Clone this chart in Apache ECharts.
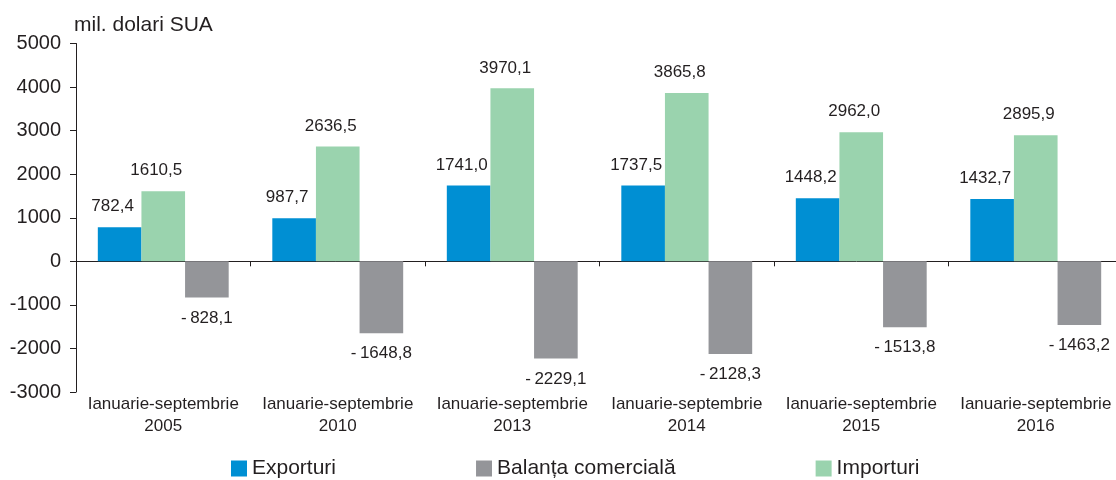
<!DOCTYPE html>
<html>
<head>
<meta charset="utf-8">
<script src="https://cdn.jsdelivr.net/npm/echarts@6/dist/echarts.min.js"></script>
<style>
  html, body { margin: 0; padding: 0; background: #fff; }
  #chart { width: 1116px; height: 480px; }
</style>
</head>
<body>
<div id="chart"></div>
<script>
// date: mil. dolari SUA
const categories = [
  'Ianuarie-septembrie\n2005',
  'Ianuarie-septembrie\n2010',
  'Ianuarie-septembrie\n2013',
  'Ianuarie-septembrie\n2014',
  'Ianuarie-septembrie\n2015',
  'Ianuarie-septembrie\n2016'
];
const exporturi = [782.4, 987.7, 1741.0, 1737.5, 1448.2, 1432.7];
const importuri = [1610.5, 2636.5, 3970.1, 3865.8, 2962.0, 2895.9];
const balanta = [-828.1, -1648.8, -2229.1, -2128.3, -1513.8, -1463.2];

const FONT = 'Arial, "Liberation Sans", sans-serif';
const INK = '#231f20';

// 1741,0 / - 1648,8
function fmt(p) {
  const s = Math.abs(p.value).toFixed(1).replace('.', ',');
  return p.value < 0 ? '-\u2009' + s : s;
}

const labelPos = {
  show: true, position: 'top', distance: 12, offset: [-7, 0],
  fontFamily: FONT, fontSize: 17, color: INK, formatter: fmt
};
const labelNeg = {
  show: true, position: 'bottom', distance: 12,
  fontFamily: FONT, fontSize: 17, color: INK, formatter: fmt
};

const chart = echarts.init(document.getElementById('chart'));
chart.setOption({
  animation: false,
  textStyle: { fontFamily: FONT },
  grid: { left: 76, right: -7, top: 43.5, bottom: 88, containLabel: false, outerBoundsMode: 'none' },
  legend: {
    data: ['Exporturi', 'Balanța comercială', 'Importuri'],
    left: 231, top: 458, padding: 0,
    itemWidth: 16, itemHeight: 16, itemGap: 140, itemTextGap: 13,
    icon: 'rect',
    textStyle: { fontFamily: FONT, fontSize: 21, color: INK }
  },
  xAxis: [
    {
      type: 'category', data: categories,
      axisLine: { onZero: true, lineStyle: { color: INK, width: 1 } },
      axisTick: { show: true, length: 5, lineStyle: { color: INK } },
      axisLabel: { show: false },
      splitLine: { show: false }
    },
    {
      type: 'category', data: categories, position: 'bottom',
      axisLine: { show: false, onZero: false },
      axisTick: { show: false },
      axisLabel: { interval: 0, margin: 1, fontFamily: FONT, fontSize: 17, lineHeight: 22, color: INK },
      splitLine: { show: false }
    }
  ],
  yAxis: {
    type: 'value', min: -3000, max: 5000, interval: 1000,
    name: 'mil. dolari SUA', nameLocation: 'end', nameGap: 8,
    nameTextStyle: { fontFamily: FONT, fontSize: 21, color: INK, align: 'left', padding: [0, 0, 0, -2] },
    axisLine: { show: true, lineStyle: { color: INK, width: 1 } },
    axisTick: { show: true, inside: false, length: 6, lineStyle: { color: INK } },
    axisLabel: { margin: 15, fontFamily: FONT, fontSize: 20, color: INK, formatter: v => String(v) },
    splitLine: { show: false }
  },
  series: [
    {
      name: 'Exporturi', type: 'bar', data: exporturi,
      barGap: '0%', barCategoryGap: '25%',
      itemStyle: { color: '#008fd3' }, label: labelPos
    },
    {
      name: 'Importuri', type: 'bar', data: importuri,
      barGap: '0%', barCategoryGap: '25%',
      itemStyle: { color: '#9ad3ae' }, label: labelPos
    },
    {
      name: 'Balanța comercială', type: 'bar', data: balanta,
      barGap: '0%', barCategoryGap: '25%',
      itemStyle: { color: '#949599' }, label: labelNeg
    }
  ]
});
window.addEventListener('resize', () => chart.resize());
</script>
</body>
</html>
